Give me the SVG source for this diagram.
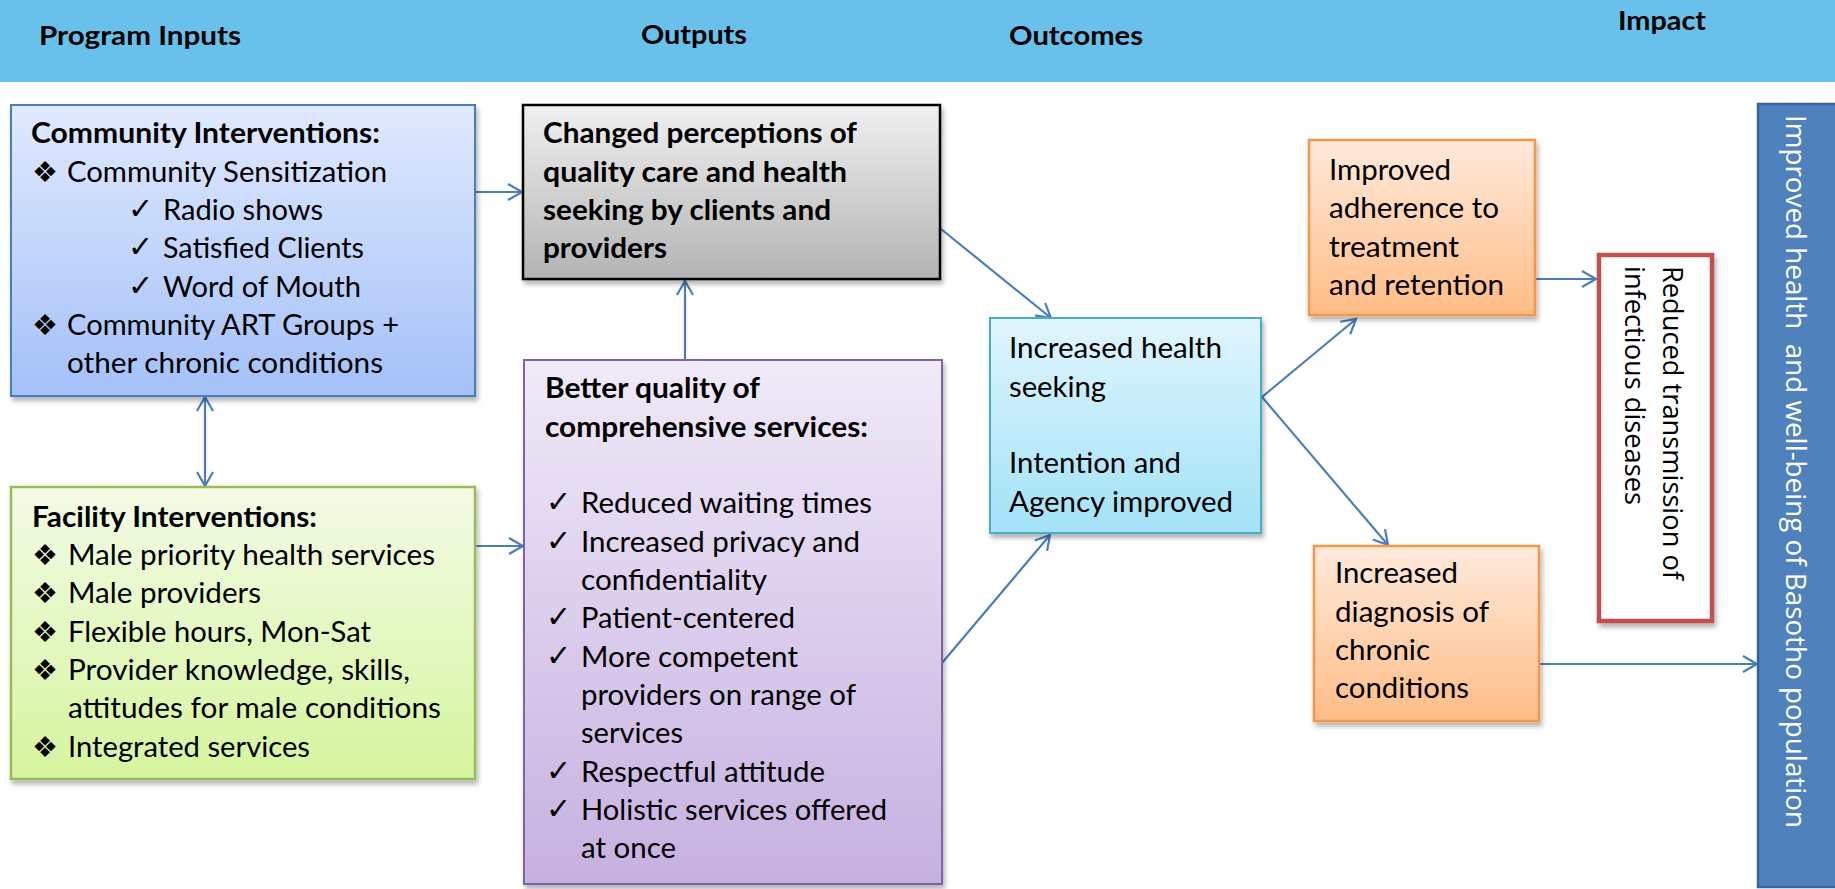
<svg xmlns="http://www.w3.org/2000/svg" width="1835" height="889" viewBox="0 0 1835 889">
<style>
.t{font-family:Lato,"Open Sans","Liberation Sans",sans-serif;font-size:28px;fill:#000}
.b{font-weight:bold}
.h{font-family:Lato,"Open Sans","Liberation Sans",sans-serif;font-size:26px;font-weight:bold;fill:#000}
.sym{font-family:"DejaVu Sans",sans-serif;font-size:29px;fill:#000}
.chk{font-family:"DejaVu Sans",sans-serif;font-size:30px;fill:#000}
.rot{font-family:"Open Sans","DejaVu Sans",sans-serif;font-size:28px}
.con{stroke:#4A7EBB;stroke-width:2.2;fill:none}
</style>
<defs>
<marker id="arr" markerUnits="userSpaceOnUse" markerWidth="22" markerHeight="22" viewBox="0 0 22 22" refX="17" refY="11" orient="auto-start-reverse">
<path d="M3,3 L17,11 L3,19" fill="none" stroke="#4A7EBB" stroke-width="2.2"/>
</marker>
<filter id="sh" x="-5%" y="-5%" width="115%" height="115%">
<feDropShadow dx="2" dy="4" stdDeviation="2.5" flood-color="#000" flood-opacity="0.3"/>
</filter>
<linearGradient id="gBlue" x1="0" y1="0" x2="0" y2="1"><stop offset="0" stop-color="#E1EAFE"/><stop offset="1" stop-color="#A3C0F8"/></linearGradient>
<linearGradient id="gGray" x1="0" y1="0" x2="0" y2="1"><stop offset="0" stop-color="#F0F0F0"/><stop offset="1" stop-color="#B3B3B3"/></linearGradient>
<linearGradient id="gPurple" x1="0" y1="0" x2="0" y2="1"><stop offset="0" stop-color="#F0EAF8"/><stop offset="1" stop-color="#C6B0E1"/></linearGradient>
<linearGradient id="gGreen" x1="0" y1="0" x2="0" y2="1"><stop offset="0" stop-color="#F4FBE6"/><stop offset="1" stop-color="#D5F59E"/></linearGradient>
<linearGradient id="gCyan" x1="0" y1="0" x2="0" y2="1"><stop offset="0" stop-color="#E0F5FD"/><stop offset="1" stop-color="#A2E2F8"/></linearGradient>
<linearGradient id="gOrange" x1="0" y1="0" x2="0" y2="1"><stop offset="0" stop-color="#FFEADC"/><stop offset="1" stop-color="#FFBD86"/></linearGradient>
</defs>

<g id="header">
<rect x="0" y="0" width="1835" height="82" fill="#69C0EB"/>
<text class="h" x="39" y="45" textLength="202" lengthAdjust="spacingAndGlyphs">Program Inputs</text>
<text class="h" x="641" y="44" textLength="106" lengthAdjust="spacingAndGlyphs">Outputs</text>
<text class="h" x="1009" y="45" textLength="134" lengthAdjust="spacingAndGlyphs">Outcomes</text>
<text class="h" x="1618" y="30" textLength="88" lengthAdjust="spacingAndGlyphs">Impact</text>
</g>

<g id="connectors">
<line class="con" x1="476" y1="192" x2="522" y2="192" marker-end="url(#arr)"/>
<line class="con" x1="205" y1="397" x2="205" y2="486" marker-start="url(#arr)" marker-end="url(#arr)"/>
<line class="con" x1="476" y1="546" x2="523" y2="546" marker-end="url(#arr)"/>
<line class="con" x1="685" y1="360" x2="685" y2="281" marker-end="url(#arr)"/>
<line class="con" x1="941" y1="229" x2="1051" y2="318" marker-end="url(#arr)"/>
<line class="con" x1="942" y1="663" x2="1050" y2="535" marker-end="url(#arr)"/>
<line class="con" x1="1262" y1="397" x2="1356" y2="319" marker-end="url(#arr)"/>
<line class="con" x1="1262" y1="397" x2="1388" y2="545" marker-end="url(#arr)"/>
<line class="con" x1="1536" y1="279" x2="1596" y2="279" marker-end="url(#arr)"/>
<line class="con" x1="1540" y1="664" x2="1757" y2="664" marker-end="url(#arr)"/>
</g>

<g id="community">
<rect x="11" y="105" width="464" height="291" fill="url(#gBlue)" stroke="#4A7EBB" stroke-width="2" filter="url(#sh)"/>
<text class="t b" x="31" y="143" textLength="349" lengthAdjust="spacingAndGlyphs">Community Interventions:</text>
<text class="sym" x="32" y="182">❖</text>
<text class="t" x="67" y="182" textLength="320" lengthAdjust="spacingAndGlyphs">Community Sensitization</text>
<text class="chk" x="128" y="219">✓</text>
<text class="t" x="163" y="220" textLength="160" lengthAdjust="spacingAndGlyphs">Radio shows</text>
<text class="chk" x="128" y="257">✓</text>
<text class="t" x="163" y="258" textLength="201" lengthAdjust="spacingAndGlyphs">Satisfied Clients</text>
<text class="chk" x="128" y="296">✓</text>
<text class="t" x="163" y="297" textLength="198" lengthAdjust="spacingAndGlyphs">Word of Mouth</text>
<text class="sym" x="32" y="335">❖</text>
<text class="t" x="67" y="335" textLength="332" lengthAdjust="spacingAndGlyphs">Community ART Groups +</text>
<text class="t" x="67" y="373" textLength="316" lengthAdjust="spacingAndGlyphs">other chronic conditions</text>
</g>

<g id="facility">
<rect x="11" y="487" width="464" height="292" fill="url(#gGreen)" stroke="#9BBB59" stroke-width="2.5" filter="url(#sh)"/>
<text class="t b" x="32" y="527" textLength="285" lengthAdjust="spacingAndGlyphs">Facility Interventions:</text>
<text class="sym" x="32" y="565">❖</text>
<text class="t" x="68" y="565" textLength="367" lengthAdjust="spacingAndGlyphs">Male priority health services</text>
<text class="sym" x="32" y="603">❖</text>
<text class="t" x="68" y="603" textLength="193" lengthAdjust="spacingAndGlyphs">Male providers</text>
<text class="sym" x="32" y="642">❖</text>
<text class="t" x="68" y="642" textLength="303" lengthAdjust="spacingAndGlyphs">Flexible hours, Mon-Sat</text>
<text class="sym" x="32" y="680">❖</text>
<text class="t" x="68" y="680" textLength="342" lengthAdjust="spacingAndGlyphs">Provider knowledge, skills,</text>
<text class="t" x="68" y="718" textLength="373" lengthAdjust="spacingAndGlyphs">attitudes for male conditions</text>
<text class="sym" x="32" y="757">❖</text>
<text class="t" x="68" y="757" textLength="242" lengthAdjust="spacingAndGlyphs">Integrated services</text>
</g>

<g id="changed">
<rect x="523" y="105" width="417" height="174" fill="url(#gGray)" stroke="#000" stroke-width="2.5" filter="url(#sh)"/>
<text class="t b" x="543" y="143" textLength="314" lengthAdjust="spacingAndGlyphs">Changed perceptions of</text>
<text class="t b" x="543" y="182" textLength="304" lengthAdjust="spacingAndGlyphs">quality care and health</text>
<text class="t b" x="543" y="220" textLength="288" lengthAdjust="spacingAndGlyphs">seeking by clients and</text>
<text class="t b" x="543" y="258" textLength="124" lengthAdjust="spacingAndGlyphs">providers</text>
</g>

<g id="better">
<rect x="524" y="360" width="418" height="524" fill="url(#gPurple)" stroke="#8064A2" stroke-width="2" filter="url(#sh)"/>
<text class="t b" x="545" y="398" textLength="215" lengthAdjust="spacingAndGlyphs">Better quality of</text>
<text class="t b" x="545" y="437" textLength="323" lengthAdjust="spacingAndGlyphs">comprehensive services:</text>
<text class="chk" x="546" y="512">✓</text>
<text class="t" x="581" y="513" textLength="291" lengthAdjust="spacingAndGlyphs">Reduced waiting times</text>
<text class="chk" x="546" y="551">✓</text>
<text class="t" x="581" y="552" textLength="279" lengthAdjust="spacingAndGlyphs">Increased privacy and</text>
<text class="t" x="581" y="590" textLength="186" lengthAdjust="spacingAndGlyphs">confidentiality</text>
<text class="chk" x="546" y="627">✓</text>
<text class="t" x="581" y="628" textLength="214" lengthAdjust="spacingAndGlyphs">Patient-centered</text>
<text class="chk" x="546" y="666">✓</text>
<text class="t" x="581" y="667" textLength="217" lengthAdjust="spacingAndGlyphs">More competent</text>
<text class="t" x="581" y="705" textLength="275" lengthAdjust="spacingAndGlyphs">providers on range of</text>
<text class="t" x="581" y="743" textLength="102" lengthAdjust="spacingAndGlyphs">services</text>
<text class="chk" x="546" y="781">✓</text>
<text class="t" x="581" y="782" textLength="244" lengthAdjust="spacingAndGlyphs">Respectful attitude</text>
<text class="chk" x="546" y="819">✓</text>
<text class="t" x="581" y="820" textLength="306" lengthAdjust="spacingAndGlyphs">Holistic services offered</text>
<text class="t" x="581" y="858" textLength="95" lengthAdjust="spacingAndGlyphs">at once</text>
</g>

<g id="health-seeking">
<rect x="990" y="318" width="271" height="215" fill="url(#gCyan)" stroke="#4BACC6" stroke-width="2" filter="url(#sh)"/>
<text class="t" x="1009" y="358" textLength="213" lengthAdjust="spacingAndGlyphs">Increased health</text>
<text class="t" x="1009" y="397" textLength="97" lengthAdjust="spacingAndGlyphs">seeking</text>
<text class="t" x="1009" y="473" textLength="172" lengthAdjust="spacingAndGlyphs">Intention and</text>
<text class="t" x="1009" y="512" textLength="224" lengthAdjust="spacingAndGlyphs">Agency improved</text>
</g>

<g id="adherence">
<rect x="1309" y="140" width="226" height="175" fill="url(#gOrange)" stroke="#F79646" stroke-width="2.5" filter="url(#sh)"/>
<text class="t" x="1329" y="180" textLength="122" lengthAdjust="spacingAndGlyphs">Improved</text>
<text class="t" x="1329" y="218" textLength="170" lengthAdjust="spacingAndGlyphs">adherence to</text>
<text class="t" x="1329" y="257" textLength="130" lengthAdjust="spacingAndGlyphs">treatment</text>
<text class="t" x="1329" y="295" textLength="175" lengthAdjust="spacingAndGlyphs">and retention</text>
</g>

<g id="diagnosis">
<rect x="1314" y="546" width="225" height="175" fill="url(#gOrange)" stroke="#F79646" stroke-width="2.5" filter="url(#sh)"/>
<text class="t" x="1335" y="583" textLength="123" lengthAdjust="spacingAndGlyphs">Increased</text>
<text class="t" x="1335" y="622" textLength="154" lengthAdjust="spacingAndGlyphs">diagnosis of</text>
<text class="t" x="1335" y="660" textLength="95" lengthAdjust="spacingAndGlyphs">chronic</text>
<text class="t" x="1335" y="698" textLength="134" lengthAdjust="spacingAndGlyphs">conditions</text>
</g>

<g id="reduced">
<rect x="1599" y="255" width="113" height="366" fill="#FFFFFF" stroke="#C0504D" stroke-width="4.5" filter="url(#sh)"/>
<text class="rot" fill="#000" transform="translate(1663,266) rotate(90)" textLength="314" lengthAdjust="spacingAndGlyphs">Reduced transmission of</text>
<text class="rot" fill="#000" transform="translate(1625,266) rotate(90)" textLength="239" lengthAdjust="spacingAndGlyphs">infectious diseases</text>
</g>

<g id="impact">
<rect x="1758" y="104" width="80" height="783" fill="#4F81BD" stroke="#3B6598" stroke-width="2.5"/>
<text class="rot" fill="#FFFFFF" xml:space="preserve" transform="translate(1786,115) rotate(90)" textLength="713" lengthAdjust="spacingAndGlyphs">Improved health  and well-being of Basotho population</text>
</g>
</svg>
